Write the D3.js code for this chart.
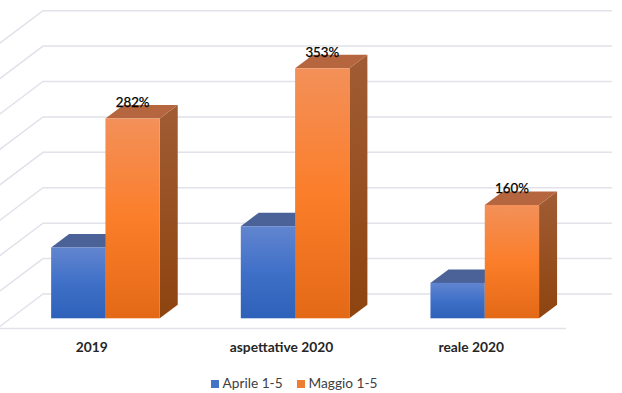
<!DOCTYPE html>
<html>
<head>
<meta charset="utf-8">
<script src="https://cdnjs.cloudflare.com/ajax/libs/d3/7.8.5/d3.min.js"></script>
<style>
  body { margin: 0; background: #fff; }
  svg { display: block; }
  text { font-family: Lato, sans-serif; }
</style>
</head>
<body>
<script>
var categories = ["2019", "aspettative 2020", "reale 2020"];
var seriesNames = ["Aprile 1-5", "Maggio 1-5"];
var aprile = [100, 130, 50];
var maggio = [282, 353, 160];
var labels = ["282%", "353%", "160%"];
var gridTicks = [0, 50, 100, 150, 200, 250, 300, 350, 400];

var width = 622, height = 393;

// 3d offsets: bars stand a bit behind the floor edge, the back wall further
var barDepth = { x: 18, y: -13.5 };
var barShift = { x: 13.6, y: -10.3 };
var wallShift = { x: 46, y: -34.6 };

var svg = d3.select("body").append("svg")
  .attr("width", width)
  .attr("height", height);

var x = d3.scaleBand().domain(categories).range([-3, 566]);
var x1 = d3.scaleBand().domain(seriesNames).range([0, 108.6]);
var y = d3.scaleLinear().domain([0, 400]).range([328.6, 45.3]);

var defs = svg.append("defs");
function gradient(id, stops) {
  var g = defs.append("linearGradient").attr("id", id)
    .attr("x1", 0).attr("y1", 0).attr("x2", 0).attr("y2", 1);
  stops.forEach(function(s) {
    g.append("stop").attr("offset", s[0]).attr("stop-color", s[1]);
  });
}
gradient("frontBlue", [[0, "#6285cf"], [0.5, "#3f70c8"], [1, "#2e61b9"]]);
gradient("frontOrange", [[0, "#f39059"], [0.5, "#fb7e2a"], [1, "#e46916"]]);
gradient("sideOrange", [[0, "#a05c34"], [1, "#8e440f"]]);

// gridlines on the wall and the side wall
var grid = svg.append("g");
gridTicks.forEach(function(t) {
  var yy = y(t) + wallShift.y;
  grid.append("path")
    .attr("d", d3.line()([[-3, y(t)], [wallShift.x - 3, yy], [612, yy]]))
    .attr("fill", "none")
    .attr("stroke", "#e1e2ea")
    .attr("stroke-width", 1.5);
});
grid.append("line")
  .attr("x1", -3).attr("x2", 566)
  .attr("y1", y(0)).attr("y2", y(0))
  .attr("stroke", "#e1e2ea")
  .attr("stroke-width", 1.5);

function drawBars(values, name, front, side, top) {
  var g = svg.append("g");
  categories.forEach(function(c, i) {
    var x0 = x(c) + x.bandwidth() / 2 + barShift.x - 54.3 + x1(name);
    var x2 = x0 + x1.bandwidth();
    var y0 = y(0) + barShift.y;
    var yTop = y(values[i]) + barShift.y;
    var dx = barDepth.x, dy = barDepth.y;
    var poly = d3.line();
    g.append("path")
      .attr("d", poly([[x2, yTop], [x2 + dx, yTop + dy], [x2 + dx, y0 + dy], [x2, y0]]) + "Z")
      .attr("fill", side);
    g.append("path")
      .attr("d", poly([[x0, yTop], [x0 + dx, yTop + dy], [x2 + dx, yTop + dy], [x2, yTop]]) + "Z")
      .attr("fill", top);
    g.append("rect")
      .attr("x", x0).attr("y", yTop)
      .attr("width", x2 - x0).attr("height", y0 - yTop)
      .attr("fill", front);
  });
}
drawBars(aprile, seriesNames[0], "url(#frontBlue)", "#34518c", "#4a6297");
drawBars(maggio, seriesNames[1], "url(#frontOrange)", "url(#sideOrange)", "#b5663e");

// data labels
svg.append("g").selectAll("text")
  .data(labels)
  .enter()
  .append("text")
  .attr("x", function(d, i) { return x(categories[i]) + x.bandwidth() / 2 + barShift.x + 27.2; })
  .attr("y", function(d, i) { return y(maggio[i]) + barShift.y - 11.5; })
  .attr("text-anchor", "middle")
  .attr("font-size", 13.3)
  .attr("fill", "#000")
  .attr("stroke", "#000")
  .attr("stroke-width", 0.25)
  .text(function(d) { return d; });

// category axis
var axis = svg.append("g")
  .attr("transform", "translate(0," + y(0) + ")")
  .call(d3.axisBottom(x).tickSize(0).tickPadding(10));
axis.select(".domain").remove();
axis.selectAll("text")
  .attr("y", 23.5)
  .attr("dy", 0)
  .style("font-family", "Lato, sans-serif")
  .style("font-size", "13.8px")
  .style("font-weight", "700")
  .attr("fill", "#262626");

// legend
var legendColor = ["#4472c4", "#ed7d31"];
var legendX = [211, 297];
var legend = svg.append("g").selectAll("g")
  .data(seriesNames)
  .enter()
  .append("g")
  .attr("transform", function(d, i) { return "translate(" + legendX[i] + ",380)"; });
legend.append("rect")
  .attr("width", 8)
  .attr("height", 8)
  .attr("fill", function(d, i) { return legendColor[i]; });
legend.append("text")
  .attr("x", 11.5)
  .attr("y", 8.2)
  .attr("font-size", 13.7)
  .attr("fill", "#404040")
  .text(function(d) { return d; });
</script>
</body>
</html>
